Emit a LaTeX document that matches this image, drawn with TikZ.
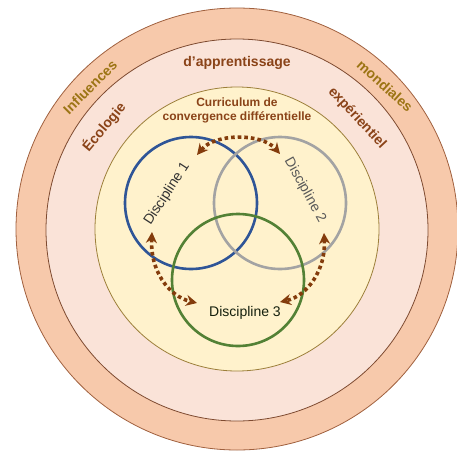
\documentclass[tikz,border=0pt]{standalone}
\usepackage{fontspec}
\setmainfont{Liberation Sans}
\usetikzlibrary{arrows.meta}
\definecolor{PeachRing}{HTML}{F7C9AB}
\definecolor{PeachEdge}{HTML}{A0603E}
\definecolor{BlushRing}{HTML}{FAE3D8}
\definecolor{BlushEdge}{HTML}{7E4A30}
\definecolor{CreamCore}{HTML}{FFF2CC}
\definecolor{CreamEdge}{HTML}{9C7F3A}
\definecolor{GoldText}{HTML}{9C7414}
\definecolor{RustText}{HTML}{8A4318}
\definecolor{LinkBrown}{HTML}{843C0C}
\definecolor{DiscBlue}{HTML}{2F5597}
\definecolor{DiscGray}{HTML}{A3A3A3}
\definecolor{DiscGreen}{HTML}{538135}
\tikzset{
  ring/.style={circle,draw=#1,line width=0.8pt,inner sep=0pt},
  disc/.style={circle,draw=#1,line width=2.6pt,minimum size=132pt,inner sep=0pt},
  ringlabel/.style={font=\fontsize{14}{16}\selectfont\bfseries,text=#1},
  disclabel/.style={font=\fontsize{14}{16}\selectfont,text=#1},
  link/.style={draw=LinkBrown,line width=3.6pt,dash pattern=on 3.6pt off 3pt,
    {Stealth[length=11pt,width=11pt]}-{Stealth[length=11pt,width=11pt]}},
}

\begin{document}
\begin{tikzpicture}[x=1pt,y=-1pt]
  \useasboundingbox (0,0) rectangle (457,450);
  % nested rings
  \node[ring=PeachEdge,fill=PeachRing,minimum size=442pt] (world) at (237,229) {};
  \node[ring=BlushEdge,fill=BlushRing,minimum size=382pt] (ecology) at (237,230) {};
  \node[ring=CreamEdge,fill=CreamCore,minimum size=284pt] (core) at (237,229) {};
  % ring labels
  \node[ringlabel=GoldText,rotate=45] (infl) at (90,87) {Influences};
  \node[ringlabel=GoldText,rotate=-42] (mond) at (385,86) {mondiales};
  \node[ringlabel=RustText,rotate=50] (ecol) at (104,127) {Écologie};
  \node[ringlabel=RustText] (appr) at (237,63) {d’apprentissage};
  \node[ringlabel=RustText,rotate=-47] (expe) at (357,118) {expérientiel};
  \node[font=\fontsize{12}{14}\selectfont\bfseries,text=RustText,align=center] (curr) at (237,110)
    {Curriculum de\\convergence différentielle};
  % disciplines
  \node[disc=DiscBlue] (d1) at (191,203) {};
  \node[disc=DiscGray] (d2) at (280,203) {};
  \node[disc=DiscGreen] (d3) at (238,280) {};
  \node[disclabel=black!80,rotate=57] (d1t) at (167,194) {Discipline 1};
  \node[disclabel=black!65,rotate=-61] (d2t) at (305,190) {Discipline 2};
  \node[disclabel=black!75!DiscGreen] (d3t) at (245,313) {Discipline 3};
  % links
  \coordinate (a1) at (197,155);
  \coordinate (a2) at (280,154);
  \coordinate (b1) at (152,232);
  \coordinate (b2) at (197,303);
  \coordinate (c1) at (324,233);
  \coordinate (c2) at (280,302);
  \draw[link] (a1) .. controls (215,133) and (262,133) .. (a2);
  \draw[link] (b1) .. controls (150,270) and (168,296) .. (b2);
  \draw[link] (c1) .. controls (326,270) and (307,296) .. (c2);
\end{tikzpicture}
\end{document}
